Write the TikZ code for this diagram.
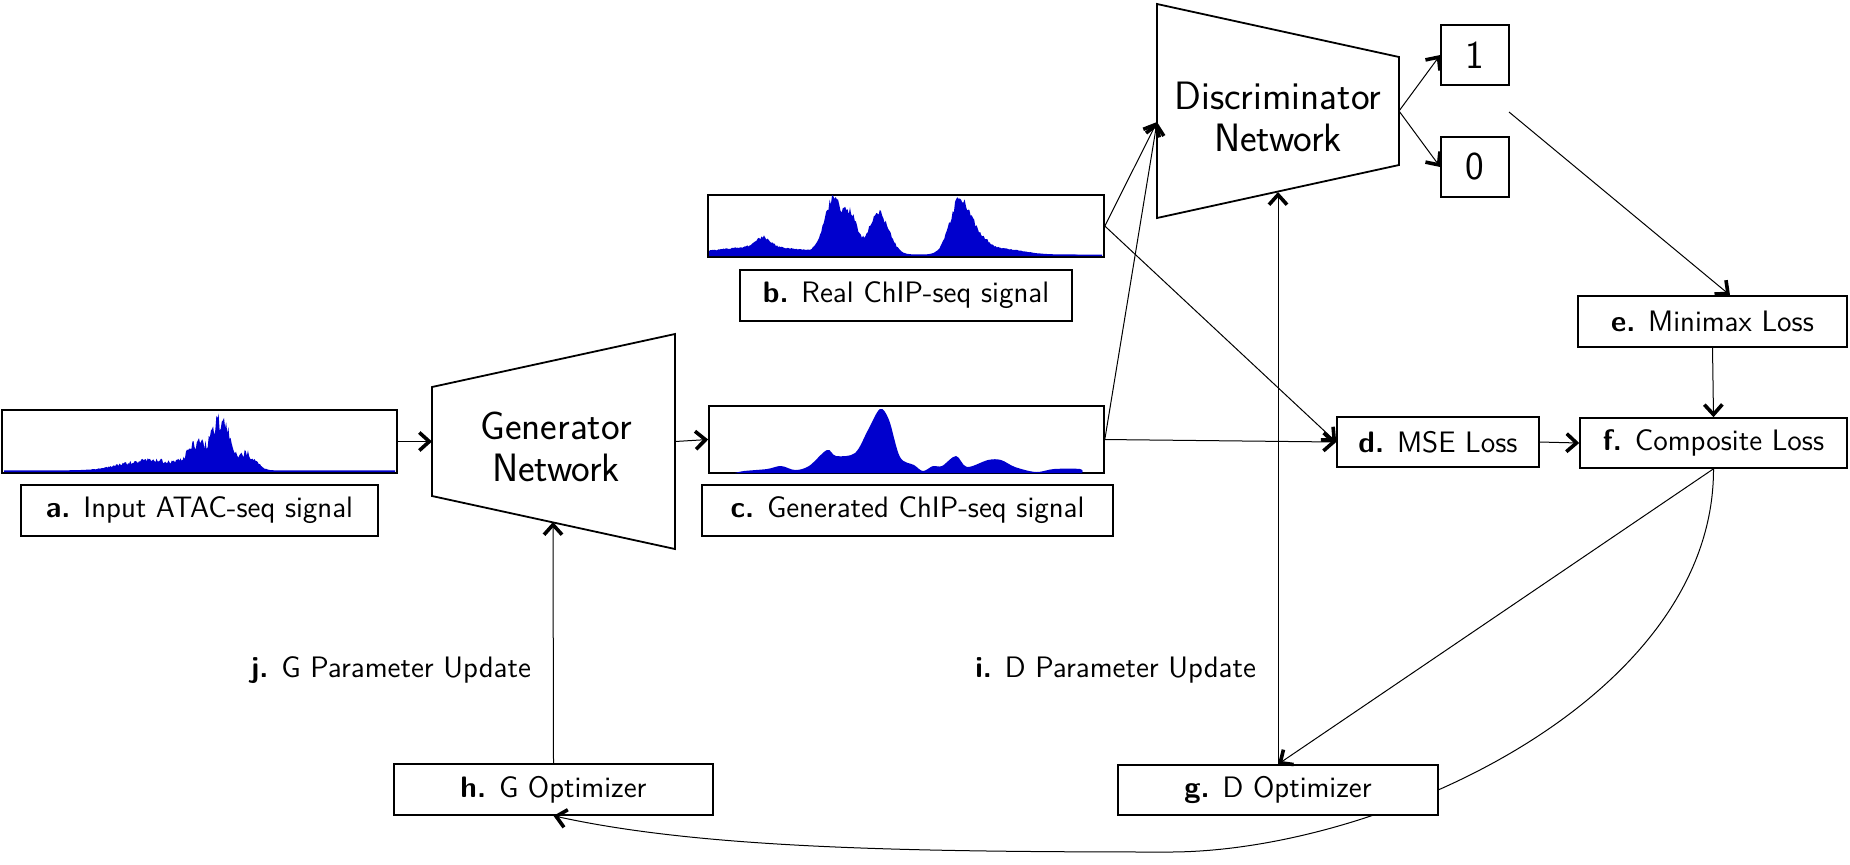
\documentclass[tikz,border=0pt]{standalone}
\usepackage{fontspec}
\usetikzlibrary{arrows.meta}
\definecolor{sigblue}{RGB}{0,0,205}
\newcommand\labfont{\sffamily\fontsize{14.8}{17}\selectfont}
\newcommand\bigfont{\sffamily\fontsize{19.8}{21}\selectfont}
\begin{document}
\begin{tikzpicture}[x=0.5pt,y=-0.5pt,
  box/.style={draw, line width=0.8pt, inner sep=0pt, font=\labfont},
  conn/.style={line width=0.5pt, -{Straight Barb[length=5pt,width=9pt,line width=1.8pt]}},
  trap/.style={draw, line width=0.9pt, line join=miter},
  ghost/.style={inner sep=0pt, outer sep=0pt},
  sig/.style={fill=sigblue},
  declare function={gs(\xa,\xb,\xc)=exp(-min(((\xa-\xb)/\xc)^2,12));}]
\useasboundingbox (0,0) rectangle (1850,864);

% signal boxes and labels
\node[box, minimum width=197.5pt, minimum height=31.5pt] (sigA) at (199.5,441.5) {};
\node[box, minimum width=178.5pt, minimum height=25.5pt] (labA) at (199.5,510.5) {\textbf{a.} Input ATAC-seq signal};
\node[box, minimum width=198pt, minimum height=31pt] (sigB) at (906,226) {};
\node[box, minimum width=166pt, minimum height=25.5pt] (labB) at (906,295.5) {\textbf{b.} Real ChIP-seq signal};
\node[box, minimum width=197.5pt, minimum height=33.5pt] (sigC) at (906.5,439.5) {};
\node[box, minimum width=205.5pt, minimum height=25.5pt] (labC) at (907.5,510.5) {\textbf{c.} Generated ChIP-seq signal};

% outputs and losses
\node[box, font=\bigfont, minimum width=34pt, minimum height=30pt] (one) at (1475,55) {1};
\node[box, font=\bigfont, minimum width=34pt, minimum height=30pt] (zero) at (1475,167) {0};
\node[box, minimum width=101pt, minimum height=25pt] (d) at (1438,442) {\textbf{d.} MSE Loss};
\node[box, minimum width=134.5pt, minimum height=25.5pt] (e) at (1712.5,321.5) {\textbf{e.} Minimax Loss};
\node[box, minimum width=133.5pt, minimum height=25pt] (f) at (1713.5,443) {\textbf{f.} Composite Loss};
\node[box, minimum width=159.5pt, minimum height=25.5pt] (h) at (553.5,789.5) {\textbf{h.} G Optimizer};

% networks
\node[ghost, minimum width=121.5pt, minimum height=107.5pt] (gen) at (553.5,441.5) {};
\draw[trap] ([yshift=-26.5pt]gen.north west) -- (gen.north east) -- (gen.south east) -- ([yshift=26.5pt]gen.south west) -- cycle;
\node[font=\bigfont, align=center] (genText) at (556,447) {Generator\\Network};
\node[ghost, minimum width=121pt, minimum height=107pt] (disc) at (1278,111) {};
\draw[trap] (disc.north west) -- ([yshift=-26.5pt]disc.north east) -- ([yshift=26.5pt]disc.south east) -- (disc.south west) -- cycle;
\node[font=\bigfont, align=center] (discText) at (1278,116.5) {Discriminator\\Network};

% side labels
\node[font=\labfont, anchor=east] (jlab) at (538,670) {\textbf{j.} G Parameter Update};
\node[font=\labfont, anchor=east] (ilab) at (1263,670) {\textbf{i.} D Parameter Update};

% signals
\pgfmathsetseed{7}
\begin{scope}
  \clip (sigA.south west) rectangle (sigA.north east);
  \fill[sig] (4,472) -- plot[domain=4:395, samples=360] (\x, {471.5 - 1.2 - (0.7+0.45*rnd)*(56*gs(\x,222,13)+24*gs(\x,197,13)+9*gs(\x,160,35)+15*gs(\x,246,7)+7*gs(\x,256,8)+4*gs(\x,130,30))}) -- (395,472) -- cycle;
\end{scope}
\begin{scope}
  \clip (sigB.south west) rectangle (sigB.north east);
  \fill[sig] (709,256) -- plot[domain=709:1102, samples=330] (\x, {255.5 - 1 - (0.88+0.2*rnd)*(8*gs(\x,760,60)+10*gs(\x,763,10)+56*gs(\x,833,12)+36*gs(\x,851,9)+42*gs(\x,879,14)+56*gs(\x,960,14)+12*gs(\x,980,12)+6*gs(\x,1000,30))}) -- (1102,256) -- cycle;
\end{scope}
\begin{scope}
  \clip (sigC.south west) rectangle (sigC.north east);
  \fill[sig] plot[smooth, tension=0.55] coordinates {(735,473) (744,471) (767,469) (781,466) (795,470) (809,466) (827,450) (836,456) (855,453) (868,430) (880,409) (889,420) (900,457) (914,465) (923,471) (933,466) (942,466) (956,456) (967,467) (988,460) (1001,460) (1015,467) (1036,472) (1054,469) (1080,469) (1082,473)} -- cycle;
\end{scope}

% curve from f to h, passing behind g
\draw[conn] (f.south) .. controls (1714,700) and (1380,852) .. (1169,852) .. controls (900,852) and (700,848) .. (h.south);
\node[box, fill=white, minimum width=160pt, minimum height=25pt] (g) at (1278,790) {\textbf{g.} D Optimizer};

% connector end points
\coordinate (genS) at (553,522);
\coordinate (discS) at (1278,192);
\coordinate (discIn) at ([yshift=-5.5pt]disc.west);
\coordinate (mmStart) at (1509,112);

% connectors
\draw[conn] (sigA.east) -- (gen.west);
\draw[conn] (gen.east) -- (sigC.west);
\draw[conn] (sigB.east) -- (discIn);
\draw[conn] (sigC.east) -- (discIn);
\draw[conn] (sigB.east) -- (d.west);
\draw[conn] (sigC.east) -- (d.west);
\draw[conn] (disc.east) -- (one.west);
\draw[conn] (disc.east) -- (zero.west);
\draw[conn] (mmStart) -- ([xshift=8.75pt]e.north);
\draw[conn] (e.south) -- (f.north);
\draw[conn] (d.east) -- (f.west);
\draw[conn] (f.south) -- (g.north);
\draw[conn] (g.north) -- (discS);
\draw[conn] (h.north) -- (genS);
\end{tikzpicture}
\end{document}
